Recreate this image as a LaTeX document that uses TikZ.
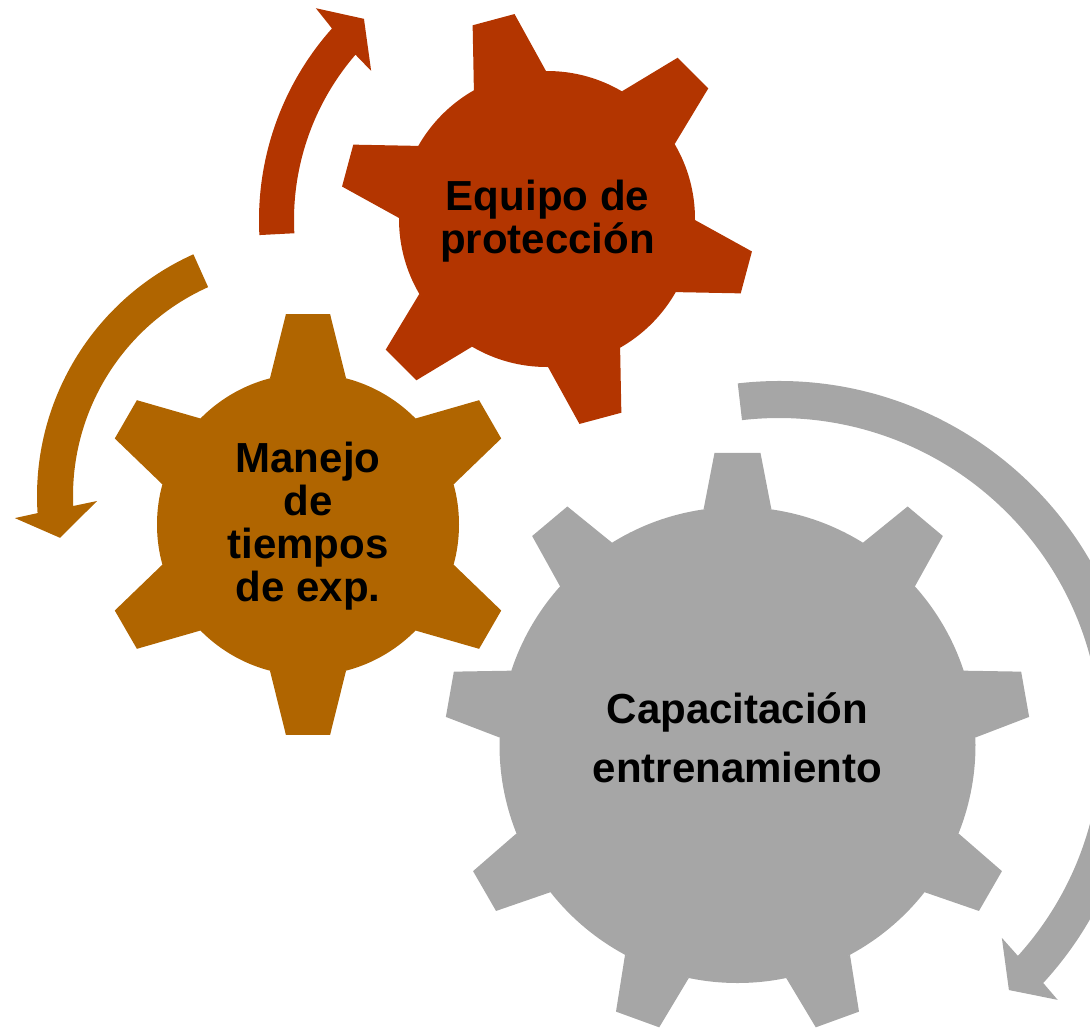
\documentclass[tikz,border=0pt]{standalone}
\usepackage{fontspec}
\setmainfont{Liberation Sans}
\usepackage{tikz}
\usetikzlibrary{calc}
\definecolor{gearred}{RGB}{179,53,0}
\definecolor{gearorange}{RGB}{176,101,0}
\definecolor{geargray}{RGB}{166,166,166}
\tikzset{
	rbody/.store in=\rbody, rbody=150,
	rtip/.store in=\rtip, rtip=210,
	wtip/.store in=\wtip, wtip=6,
	wbase/.store in=\wbase, wbase=14.6,
	gearlabel/.style={align=center, inner sep=0pt,
		font=\bfseries\fontsize{11.95}{12.2}\selectfont},
}

\begin{document}
\begin{tikzpicture}[x=0.01cm,y=0.01cm]
\useasboundingbox (0,0) rectangle (1090,-1033);
\clip (0,0) rectangle (1090,-1033);
% Equipo de proteccion
\begin{scope}[shift={(547,-219)},rbody=148,rtip=207.5]
\fill[gearred] (0,0) circle (\rbody);
\foreach \a in {105,165,...,405}
	\fill[gearred] (\a+\wbase:\rbody) -- (\a+\wtip:\rtip) -- (\a-\wtip:\rtip) -- (\a-\wbase:\rbody) -- cycle;
\end{scope}
% Manejo de tiempos
\begin{scope}[shift={(308,-524.5)},rbody=151,rtip=211.5]
\fill[gearorange] (0,0) circle (\rbody);
\foreach \a in {30,90,...,330}
	\fill[gearorange] (\a+\wbase:\rbody) -- (\a+\wtip:\rtip) -- (\a-\wtip:\rtip) -- (\a-\wbase:\rbody) -- cycle;
\end{scope}
% Capacitacion
\begin{scope}[shift={(737.5,-745)},rbody=238,rtip=293,wtip=4.5,wbase=8.2]
\fill[geargray] (0,0) circle (\rbody);
\foreach \a in {90,130,...,410}
	\fill[geargray] (\a+\wbase:\rbody) -- (\a+\wtip:\rtip) -- (\a-\wtip:\rtip) -- (\a-\wbase:\rbody) -- cycle;
\end{scope}
% arrows
\begin{scope}[shift={(547,-220)}]
\fill[gearred] (183:288) arc[start angle=183, end angle=138.3, radius=288] -- (137.5:313.5) -- (132.3:272)
	-- (139.7:230.6) -- (139.2:253) arc[start angle=139.2, end angle=183, radius=253] -- cycle;
\end{scope}
\begin{scope}[shift={(302,-496)}]
\fill[gearorange] (114.2:265) arc[start angle=114.2, end angle=183.7, radius=265] -- (184.4:288) -- (189.8:245.6)
	-- (181.4:205) -- (182.5:229) arc[start angle=182.5, end angle=114.2, radius=229] -- cycle;
\end{scope}
\begin{scope}[shift={(779,-740)}]
\fill[geargray] (96.6:359) arc[start angle=96.6, end angle=-42.6, radius=359] -- (-43:381) -- (-47.4:339.7)
	-- (-41.6:298) -- (-42.1:322) arc[start angle=-42.1, end angle=96.6, radius=322] -- cycle;
\end{scope}
\node[gearlabel] (protec) at (547.5,-221.5) {Equipo de\\protección};
\node[gearlabel] (manejo) at (308,-526.3) {Manejo\\de\\tiempos\\de exp.};
\node[gearlabel] (capac) at (737.5,-738) {Capacitación\\[4.6pt]entrenamiento};
\end{tikzpicture}
\end{document}
